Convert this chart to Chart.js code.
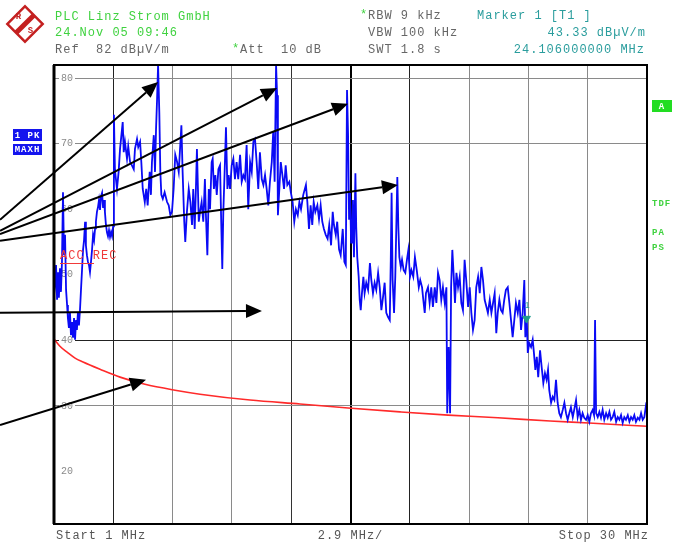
<!DOCTYPE html>
<html><head><meta charset="utf-8">
<style>html,body{margin:0;padding:0;background:#fff;overflow:hidden}#wrap{position:relative;width:673px;height:542px}</style>
<script src="https://cdn.jsdelivr.net/npm/chart.js@4/dist/chart.umd.min.js"></script>
</head><body><div id="wrap"><canvas id="c" width="673" height="542"></canvas></div>
<script>
// ---- data (frequency in MHz, level in dBµV/m) ----
const traceMHz = [
1.00,1.05,1.10,1.15,1.20,1.24,1.29,1.34,1.39,1.44,
1.49,1.54,1.59,1.64,1.68,1.73,1.78,1.83,1.88,1.93,
1.98,2.03,2.08,2.12,2.17,2.22,2.27,2.32,2.37,2.42,
2.47,2.52,2.56,2.61,2.66,2.71,2.76,2.81,2.86,2.91,
2.96,3.01,3.05,3.10,3.15,3.20,3.25,3.30,3.35,3.40,
3.45,3.49,3.54,3.59,3.64,3.69,3.74,3.79,3.84,3.89,
3.93,3.98,
4.08,4.16,4.23,4.36,4.41,4.47,4.57,4.63,4.72,4.81,
4.90,4.96,5.06,5.12,5.21,5.27,5.34,5.44,5.51,5.58,
5.68,5.74,5.79,5.88,5.94,5.99,6.04,6.09,6.15,6.20,
6.25,6.32,6.41,6.53,6.61,6.69,6.77,6.85,6.93,7.02,
7.10,7.23,7.29,7.37,7.42,7.50,7.59,7.67,7.75,7.81,
7.88,7.94,7.99,8.08,8.14,8.22,8.30,8.38,8.43,8.50,
8.57,8.63,8.71,8.76,8.82,8.89,8.96,9.04,9.12,9.17,
9.23,9.28,9.36,9.41,9.48,9.54,9.61,9.69,9.77,9.85,
9.93,10.01,10.10,10.18,10.26,10.34,10.42,10.50,10.59,10.67,
10.75,10.83,10.91,10.99,11.07,11.16,11.24,11.32,11.40,11.48,
11.56,11.65,11.72,11.79,11.86,11.91,11.95,12.02,12.09,12.17,
12.25,12.33,12.41,12.51,12.58,12.67,12.75,12.83,12.92,13.00,
13.08,13.19,13.32,13.39,13.47,13.55,13.63,13.70,13.78,13.88,
13.96,14.04,14.12,14.20,14.29,14.38,14.46,14.55,14.63,14.69,
14.78,14.85,14.94,15.02,15.12,15.20,15.27,15.33,15.38,15.43,
15.48,15.53,15.57,15.62,15.67,15.74,15.78,15.83,15.90,15.95,
16.00,16.06,16.13,16.19,16.27,16.36,16.45,16.52,16.60,16.68,
16.76,16.85,16.93,17.01,17.09,17.17,17.25,17.33,17.42,17.47,
17.51,17.56,17.63,17.69,17.74,17.79,17.84,17.89,17.96,18.02,
18.10,18.18,18.26,18.33,18.41,18.48,18.57,18.65,18.74,18.84,
18.91,19.00,19.06,19.13,19.19,19.29,19.37,19.45,19.53,19.62,
19.70,19.78,19.86,19.94,20.02,20.11,20.19,20.23,20.30,20.37,
20.42,20.48,20.55,20.61,20.68,20.76,20.84,20.92,21.00,21.08,
21.16,21.25,21.33,21.41,21.49,21.57,21.65,21.74,21.82,21.90,
21.98,22.06,22.15,22.22,22.31,22.39,22.47,22.55,22.63,22.70,
22.78,22.86,22.94,23.02,23.10,23.19,23.27,23.35,23.43,23.51,
23.59,23.68,23.76,23.84,23.92,24.00,24.05,24.12,24.17,24.24,
24.33,24.41,24.47,24.54,24.61,24.68,24.77,24.85,24.93,25.01,
25.09,25.16,25.22,25.31,25.39,25.47,25.55,25.63,25.71,25.79,
25.88,25.96,26.04,26.12,26.20,26.28,26.37,26.44,26.53,26.61,
26.69,26.77,26.85,26.93,27.02,27.10,27.18,27.26,27.34,27.41,
27.46,27.51,27.59,27.67,27.75,27.83,27.91,28.00,28.08,28.16,
28.24,28.32,28.40,28.49,28.57,28.65,28.73,28.81,28.89,28.97,
29.06,29.14,29.22,29.30,29.38,29.46,29.55,29.63,29.71,29.79,
29.87,29.95,30.00
];
const traceLevel = [
46.9,48.4,51.5,46.2,50.4,46.5,51.0,47.4,52.0,62.6,
53.0,56.1,47.7,45.4,43.4,41.9,44.3,40.8,42.8,40.4,
43.4,40.1,43.1,41.6,44.3,42.3,44.6,47.7,50.7,53.8,
55.3,58.1,54.5,53.0,52.0,51.5,50.4,52.0,53.8,56.1,
55.3,57.1,58.1,59.6,60.3,61.4,59.9,62.0,62.5,60.2,
61.4,59.6,57.6,56.5,55.9,56.8,55.8,56.5,55.9,57.4,
74.4,66.0,
63.1,65.7,69.2,73.3,68.7,70.3,67.7,69.6,67.2,66.7,
66.1,69.2,70.7,69.5,70.3,67.2,63.1,61.1,63.1,60.6,
65.7,62.2,67.2,71.3,65.7,72.2,76.7,82.0,74.8,65.7,
62.2,61.6,62.6,61.1,60.6,59.1,59.6,63.1,68.3,67.2,
65.7,72.8,65.7,58.1,55.0,59.6,63.1,61.1,57.6,63.1,
57.0,63.1,69.2,58.1,59.6,61.1,58.1,64.6,59.1,53.0,
63.1,60.0,67.2,67.7,63.1,65.2,62.2,66.1,66.7,59.1,
50.9,59.6,67.2,72.5,63.1,65.2,63.1,66.7,67.7,64.6,
67.2,64.6,68.3,64.2,65.2,64.6,69.8,60.0,67.2,65.7,
70.3,70.7,67.2,63.1,68.7,64.6,63.7,65.2,63.1,60.6,
64.2,67.2,71.8,64.2,82.0,77.4,59.1,63.1,67.2,65.2,
63.1,66.7,63.7,64.2,62.6,61.1,58.1,60.0,59.1,61.1,
60.0,62.2,63.7,61.1,57.0,60.6,57.6,61.1,59.6,60.6,
58.5,60.6,58.1,57.0,56.1,55.5,57.6,54.5,59.6,57.6,
56.1,58.1,53.9,53.0,57.0,52.0,51.5,78.2,71.5,58.4,
62.5,54.9,55.3,61.4,52.7,65.5,57.3,52.7,49.7,46.2,
44.6,47.2,49.7,47.2,48.8,47.7,51.8,49.2,47.2,48.8,
47.7,50.3,48.1,44.6,46.6,48.8,44.2,43.6,43.1,52.3,
62.5,49.2,44.2,49.7,57.3,64.9,57.3,52.7,51.2,52.3,
50.7,50.3,52.3,53.8,49.7,50.7,49.7,52.7,50.7,48.1,
49.2,48.1,46.2,44.2,47.2,48.1,45.7,48.1,45.1,48.1,
45.7,50.3,49.2,46.2,48.1,45.7,48.1,28.9,39.0,28.9,
48.1,53.8,49.7,45.7,50.3,48.1,49.7,45.7,44.6,52.3,
49.2,45.1,48.1,44.2,41.6,43.1,48.1,49.7,47.2,51.2,
49.2,46.2,45.1,44.2,46.2,44.2,45.7,47.2,41.1,44.2,
46.2,44.6,44.2,46.2,47.7,48.1,45.7,43.1,40.5,43.1,
45.7,44.2,46.2,41.6,44.2,49.2,40.5,43.6,38.1,39.6,
39.0,40.1,38.1,35.5,37.5,34.4,38.5,35.9,33.5,35.0,
34.0,35.5,32.4,30.5,31.4,30.9,34.0,30.5,28.9,28.3,
29.4,30.5,28.9,27.9,28.9,29.8,28.3,29.4,30.9,28.3,
29.4,27.9,28.9,28.2,27.9,28.6,27.6,28.9,29.4,28.6,
43.1,28.9,28.3,29.1,28.2,29.4,27.9,28.9,28.2,29.1,
27.9,28.3,29.1,27.6,28.3,27.9,28.6,27.4,28.3,27.9,
28.6,27.6,28.3,27.9,28.6,27.6,28.2,27.9,28.9,27.9,
28.3,30.1,29.7
];
const limitMHz   = [1.00, 1.29, 1.64, 2.03, 2.42, 3.25, 4.23, 5.45, 6.92, 8.14, 10.59, 13.03, 15.38, 17.92, 20.27, 22.71, 25.26, 27.16, 30.00];
const limitLevel = [40.2, 39.1, 38.2, 37.3, 36.7, 35.6, 34.4, 33.3, 32.4, 31.8, 30.9, 30.3, 29.7, 29.1, 28.6, 28.2, 27.7, 27.4, 26.9];
const markerMHz = [24.106];
const markerLevel = [43.33];
const xGridMHz = [1, 3.9, 6.8, 9.7, 12.6, 15.5, 18.4, 21.3, 24.2, 27.1, 30];
const yTickLevels = [20, 30, 40, 50, 60, 70, 80];
const yGridLevels = [80, 70, 40, 30];
// annotation arrows (data coordinates; start lies left of the 1 MHz edge)
const arrowFromMHz   = [-1.64, -1.64, -1.64, -1.64, -1.64, -1.64];
const arrowFromLevel = [58.4, 56.7, 56.2, 55.2, 44.2, 27.1];
const arrowToMHz     = [6.09, 11.91, 15.38, 17.82, 11.17, 5.50];
const arrowToLevel   = [79.4, 78.5, 76.1, 63.7, 44.5, 34.0];

const pts = (xs, ys) => xs.map((x, i) => ({x, y: ys[i]}));
const MONO = '"Liberation Mono", "DejaVu Sans Mono", monospace';

const xGridStyle = ['rgba(0,0,0,0)', '#222', '#8a8a8a', '#8a8a8a', '#333', '#000', '#222', '#8a8a8a', '#8a8a8a', '#8a8a8a', 'rgba(0,0,0,0)'];

function drawArrow(ctx, x0, y0, x1, y1) {
  const a = Math.atan2(y1 - y0, x1 - x0), L = 16, W = 7;
  const bx = x1 - L * Math.cos(a), by = y1 - L * Math.sin(a);
  ctx.beginPath(); ctx.moveTo(x0, y0); ctx.lineTo(bx, by); ctx.stroke();
  ctx.beginPath(); ctx.moveTo(x1, y1);
  ctx.lineTo(bx + W * Math.sin(a), by - W * Math.cos(a));
  ctx.lineTo(bx - W * Math.sin(a), by + W * Math.cos(a));
  ctx.closePath(); ctx.fill();
}

const overlay = {
  id: 'overlay',
  afterDraw(chart) {
    const ctx = chart.ctx, a = chart.chartArea, xs = chart.scales.x, ys = chart.scales.y;
    ctx.save();
    // frame
    ctx.strokeStyle = '#000';
    ctx.lineWidth = 2;
    ctx.strokeRect(a.left, a.top, a.right - a.left, a.bottom - a.top);
    ctx.lineWidth = 3;
    ctx.beginPath(); ctx.moveTo(a.left, a.top); ctx.lineTo(a.left, a.bottom); ctx.stroke();
    // arrows
    ctx.strokeStyle = '#000'; ctx.fillStyle = '#000'; ctx.lineWidth = 2;
    for (let i = 0; i < arrowToMHz.length; i++) {
      drawArrow(ctx, xs.getPixelForValue(arrowFromMHz[i]), ys.getPixelForValue(arrowFromLevel[i]),
                xs.getPixelForValue(arrowToMHz[i]), ys.getPixelForValue(arrowToLevel[i]));
    }
    // texts
    ctx.textBaseline = 'middle';
    try { ctx.letterSpacing = '1px'; } catch (e) {}
    const t = (s, x, y, col, align) => { ctx.fillStyle = col; ctx.textAlign = align || 'left'; ctx.fillText(s, x, y); };
    ctx.font = '12px ' + MONO;
    const green = '#3fd23f', gray = '#666', teal = '#2a9d9d';
    t('PLC Linz Strom GmbH', 55, 17, green);
    t('24.Nov 05 09:46', 55, 33, green);
    t('Ref  82 dBµV/m', 55, 50, gray);
    t('*', 232, 49, green); t('Att  10 dB', 240, 50, gray);
    t('*', 360, 15, green); t('RBW 9 kHz', 368, 16, gray);
    t('VBW 100 kHz', 368, 33, gray);
    t('SWT 1.8 s', 368, 50, gray);
    t('Marker 1 [T1 ]', 477, 16, teal);
    t('43.33 dBµV/m', 646, 33, teal, 'right');
    t('24.106000000 MHz', 645, 50, teal, 'right');
    t('Start 1 MHz', 56, 536, '#555');
    t('2.9 MHz/', (a.left + a.right) / 2, 536, '#555', 'center');
    t('Stop 30 MHz', 649, 536, '#555', 'right');
    // ACC REC label
    t('ACC REC', 60, 256, '#f03a3a');
    ctx.strokeStyle = '#f03a3a'; ctx.lineWidth = 1;
    ctx.beginPath(); ctx.moveTo(60, 263.5); ctx.lineTo(94, 263.5); ctx.stroke();
    // marker number
    ctx.font = '9px ' + MONO;
    t('1', xs.getPixelForValue(markerMHz[0]) + 1, ys.getPixelForValue(markerLevel[0]) - 13, teal, 'center');
    // side boxes
    ctx.font = 'bold 9px ' + MONO;
    ctx.fillStyle = '#1414ee'; ctx.fillRect(13, 129, 29, 12); ctx.fillRect(13, 144, 29, 11);
    t('1 PK', 27.5, 135.5, '#fff', 'center');
    t('MAXH', 27.5, 150, '#fff', 'center');
    ctx.fillStyle = '#22dd22'; ctx.fillRect(652, 100, 20, 12);
    t('A', 662, 106.5, '#fff', 'center');
    t('TDF', 652, 204, green);
    t('PA', 652, 233, green);
    t('PS', 652, 248, green);
    // R&S logo
    ctx.save();
    ctx.translate(25, 24); ctx.rotate(Math.PI / 4);
    ctx.strokeStyle = '#c42020'; ctx.lineWidth = 2.5;
    ctx.strokeRect(-12.5, -12.5, 25, 25);
    ctx.fillStyle = '#c42020'; ctx.fillRect(-2.5, -12.5, 5, 25);
    ctx.restore();
    ctx.font = 'bold 9px ' + MONO;
    t('R', 19, 17, '#c42020', 'center');
    t('S', 31, 31, '#c42020', 'center');
    ctx.restore();
  }
};

new Chart(document.getElementById('c'), {
  type: 'line',
  data: {
    datasets: [
      { label: 'Marker 1', data: pts(markerMHz, markerLevel), showLine: false,
        pointStyle: 'triangle', rotation: 180, pointRadius: 4.5,
        pointBackgroundColor: '#1f9c8c', pointBorderColor: '#1f9c8c' },
      { label: '1 PK MAXH', data: pts(traceMHz, traceLevel), borderColor: '#0a0af5',
        borderWidth: 1.8, pointRadius: 0, tension: 0, fill: false },
      { label: 'Limit', data: pts(limitMHz, limitLevel), borderColor: '#ff2a2a',
        borderWidth: 1.6, pointRadius: 0, cubicInterpolationMode: 'monotone', fill: false }
    ]
  },
  options: {
    responsive: false, animation: false, devicePixelRatio: 1,
    layout: { padding: { left: 54, right: 26, top: 65, bottom: 18 } },
    plugins: { legend: { display: false }, tooltip: { enabled: false } },
    scales: {
      x: {
        type: 'linear', min: 1, max: 30,
        afterBuildTicks: s => { s.ticks = xGridMHz.map(v => ({ value: v })); },
        afterFit: s => { s.height = 0; },
        ticks: { display: false },
        border: { display: false },
        grid: { drawTicks: false,
          color: c => xGridStyle[c.index] || '#8a8a8a',
          lineWidth: c => (c.index === 5 ? 2 : 1) }
      },
      y: {
        type: 'linear', min: 12, max: 82,
        afterBuildTicks: s => { s.ticks = yTickLevels.map(v => ({ value: v })); },
        afterFit: s => { s.width = 0; },
        border: { display: false },
        ticks: { mirror: true, padding: 7, color: '#8a8a8a',
          font: { family: MONO, size: 10 },
          showLabelBackdrop: true, backdropColor: '#fff',
          backdropPadding: { left: 2, right: 2, top: 0, bottom: 0 },
          callback: v => String(v) },
        grid: { drawTicks: false,
          color: c => { const v = c.tick ? c.tick.value : null;
            if (!yGridLevels.includes(v)) return 'rgba(0,0,0,0)';
            return v === 40 ? '#222' : '#8a8a8a'; } }
      }
    }
  },
  plugins: [overlay]
});
</script>
</body></html>
